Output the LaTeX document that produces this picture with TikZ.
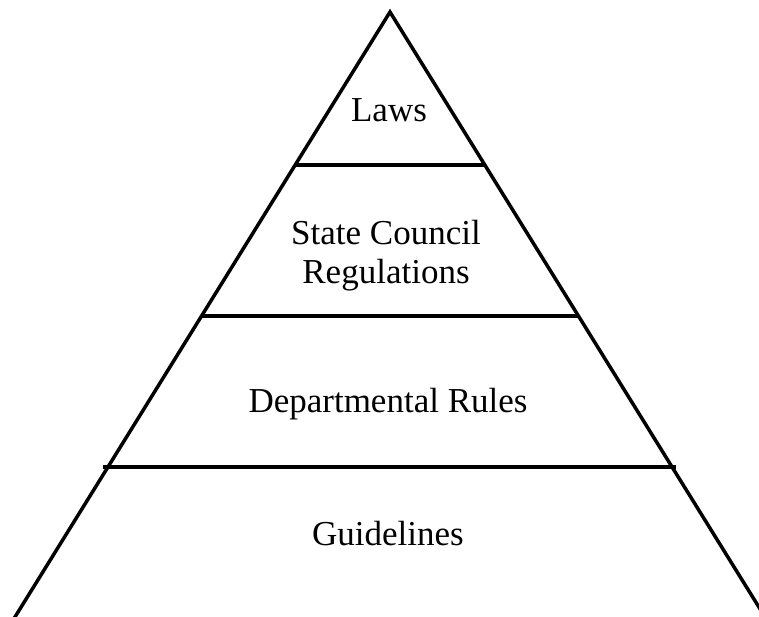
\documentclass[tikz,border=0pt]{standalone}
\usepackage{fontspec}
\setmainfont{Liberation Serif}

\tikzset{
  tier/.style={inner sep=0pt, font=\fontsize{35}{39}\selectfont, align=center},
  rule/.style={line width=3.5pt}
}

\begin{document}
\begin{tikzpicture}[x=1pt, y=-1pt]

    \useasboundingbox (0,0) rectangle (759,617);
    \clip (0,0) rectangle (759,617);

    \coordinate (top) at (390,12);
    \coordinate (bl) at (10,625);
    \coordinate (br) at (770,625);

    \draw[rule, line join=miter] (bl)--(top)--(br);

    \coordinate (a1) at (295,165);
    \coordinate (a2) at (485,165);
    \coordinate (b1) at (201,316);
    \coordinate (b2) at (579,316);
    \coordinate (c1) at (103,467);
    \coordinate (c2) at (676,467);

    \draw[rule] (a1)--(a2);
    \draw[rule] (b1)--(b2);
    \draw[rule] (c1)--(c2);

    \node[tier, anchor=base] (laws) at (389,122) {Laws};

    \node[tier] (council) at (386,256) {State Council\\Regulations};

    \node[tier, anchor=base] (depts) at (388,412) {Departmental Rules};

    \node[tier, anchor=base] (guide) at (388,545) {Guidelines};

\end{tikzpicture}
\end{document}
